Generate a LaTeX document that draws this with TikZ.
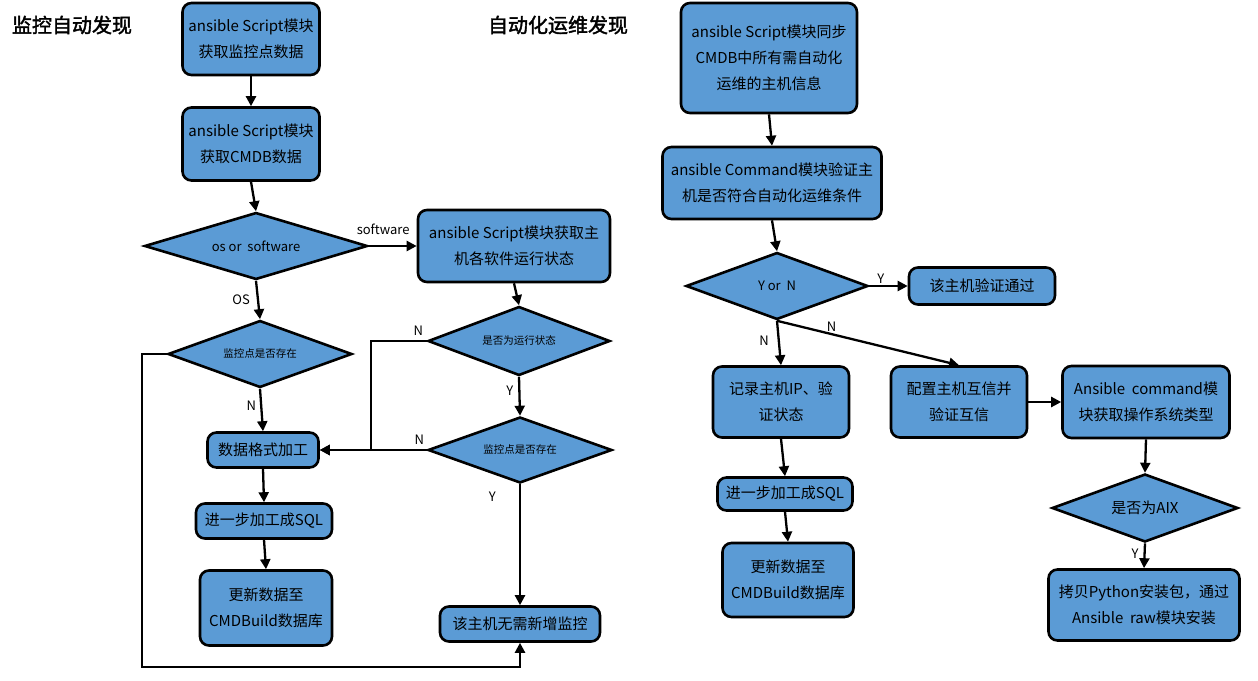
\documentclass[tikz,border=0pt]{standalone}
\usepackage{fontspec}
\setmainfont{Noto Sans CJK SC}[AutoFakeBold=2]
\usepackage{tikz}
\usetikzlibrary{shapes,arrows.meta,positioning,calc}
\usepackage{xcolor}
\definecolor{boxblue}{RGB}{91,155,213}

\begin{document}
\begin{tikzpicture}[x=1pt, y=-1pt,
    block/.style={rectangle, draw, line width=2.6pt, fill=boxblue, rounded corners=9pt, align=center, inner sep=0pt, font=\fontsize{15}{26}\selectfont},
    decision/.style={diamond, draw, line width=2.6pt, fill=boxblue, inner sep=0pt, aspect=3, align=center},
    flow/.style={-{Triangle[length=10pt,width=10pt]}, line width=2.3pt},
    lbl/.style={font=\fontsize{13}{15}\selectfont, inner sep=1pt},
    heading/.style={font=\fontsize{20}{24}\selectfont\bfseries}]
    \useasboundingbox (0,0) rectangle (1258,680);
    \node [heading] (title1) at (72,25) {监控自动发现};
    \node [heading] (title2) at (558,25) {自动化运维发现};
    \node [block, minimum width=137pt, minimum height=72pt] (getmon) at (251,39) {ansible Script模块\\获取监控点数据};
    \node [block, minimum width=137pt, minimum height=73pt] (getcmdb) at (251,144) {ansible Script模块\\获取CMDB数据};
    \node [decision, minimum width=223pt, minimum height=67pt, font=\fontsize{13}{15}\selectfont] (osq) at (256,246) {os or~ software};
    \node [block, minimum width=192pt, minimum height=72pt] (swstat) at (514,246) {ansible Script模块获取主\\机各软件运行状态};
    \node [decision, minimum width=184pt, minimum height=67pt, font=\fontsize{10.5}{12}\selectfont] (monex1) at (260,354) {监控点是否存在};
    \node [decision, minimum width=182pt, minimum height=69pt, font=\fontsize{10.5}{12}\selectfont] (runq) at (519,341) {是否为运行状态};
    \node [decision, minimum width=184pt, minimum height=66pt, font=\fontsize{10.5}{12}\selectfont] (monex2) at (520,450) {监控点是否存在};
    \node [block, minimum width=111pt, minimum height=35pt] (fmt) at (263,450) {数据格式加工};
    \node [block, minimum width=136pt, minimum height=35pt] (sql) at (264,521) {进一步加工成SQL};
    \node [block, minimum width=132pt, minimum height=75pt] (upd) at (266,608) {更新数据至\\CMDBuild数据库};
    \node [block, minimum width=160pt, minimum height=35pt] (done) at (520,624) {该主机无需新增监控};
    \node [block, minimum width=176pt, minimum height=110pt] (sync) at (769,58) {ansible Script模块同步\\CMDB中所有需自动化\\运维的主机信息};
    \node [block, minimum width=219pt, minimum height=72pt] (verify) at (772,183) {ansible Command模块验证主\\机是否符合自动化运维条件};
    \node [decision, minimum width=182pt, minimum height=67pt, font=\fontsize{13}{15}\selectfont] (ynq) at (777,286) {Y or~ N};
    \node [block, minimum width=146pt, minimum height=37pt] (pass) at (982,286) {该主机验证通过};
    \node [block, minimum width=136pt, minimum height=71pt] (record) at (781,402) {记录主机IP、验\\证状态};
    \node [block, minimum width=136pt, minimum height=71pt] (trust) at (959,402) {配置主机互信并\\验证互信};
    \node [block, minimum width=167pt, minimum height=72pt] (ostype) at (1146,402) {Ansible~ command模\\块获取操作系统类型};
    \node [decision, minimum width=186pt, minimum height=68pt, font=\fontsize{15}{17}\selectfont] (aixq) at (1145,508) {是否为AIX};
    \node [block, minimum width=191pt, minimum height=71pt] (install) at (1144,605) {拷贝Python安装包，通过\\Ansible~ raw模块安装};
    \node [block, minimum width=135pt, minimum height=33pt] (sql2) at (785,494) {进一步加工成SQL};
    \node [block, minimum width=131pt, minimum height=74pt] (upd2) at (788,580) {更新数据至\\CMDBuild数据库};
    \coordinate (back) at (142,667);
    \draw[flow] (getmon.south) -- (getcmdb.north);
    \draw[flow] (getcmdb.south) -- (osq.north);
    \draw[flow] (osq.east) -- node[lbl, above=9pt, pos=0.3] {software} (swstat.west);
    \draw[flow] (osq.south) -- node[lbl, left=6pt] {OS} (monex1.north);
    \draw[flow] (monex1.south) -- node[lbl, left=3pt, pos=0.4] {N} (fmt.north);
    \draw[flow] (swstat.south) -- (runq.north);
    \draw[flow] (runq.west) -- node[lbl, above=3pt, pos=0.15] {N} ++(-56,0) |- (fmt.east);
    \draw[flow] (runq.south) -- node[lbl, left=4pt, pos=0.35] {Y} (monex2.north);
    \draw[flow] (monex2.west) -- node[lbl, above=3pt, pos=0.07] {N} (fmt.east);
    \draw[flow] (monex2.south) -- node[lbl, left=22pt, pos=0.1] {Y} (done.north);
    \draw[flow] (fmt.south) -- (sql.north);
    \draw[flow] (sql.south) -- (upd.north);
    \draw[flow] (monex1.west) -| (back) -| (done.south);
    \draw[flow] (sync.south) -- (verify.north);
    \draw[flow] (verify.south) -- (ynq.north);
    \draw[flow] (ynq.east) -- node[lbl, above, pos=0.3] {Y} (pass.west);
    \draw[flow] (ynq.south) -- node[lbl, left=8pt, pos=0.45] {N} (record.north);
    \draw[flow] (ynq.south) -- node[lbl, above, pos=0.3] {N} (trust.north);
    \draw[flow] (trust.east) -- (ostype.west);
    \draw[flow] (ostype.south) -- (aixq.north);
    \draw[flow] (aixq.south) -- node[lbl, left=4pt, pos=0.4] {Y} (install.north);
    \draw[flow] (record.south) -- (sql2.north);
    \draw[flow] (sql2.south) -- (upd2.north);
\end{tikzpicture}
\end{document}
